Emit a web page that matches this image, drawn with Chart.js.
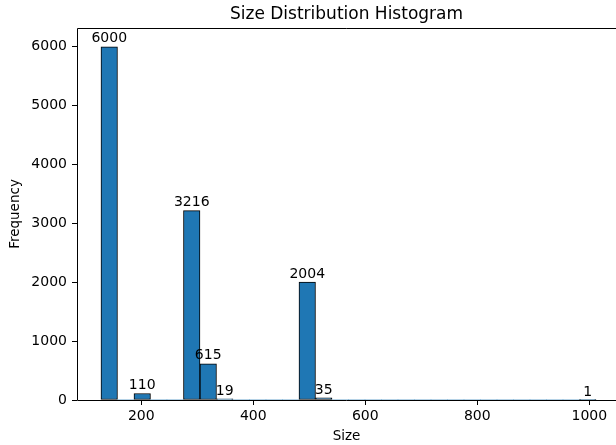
<!DOCTYPE html>
<html>
<head>
<meta charset="utf-8">
<script src="https://cdn.jsdelivr.net/npm/chart.js@4.4.0/dist/chart.umd.min.js"></script>
<style>
    html, body { margin: 0; padding: 0; background: #fff; }
    #wrap { width: 616px; height: 445px; }
</style>
</head>
<body>
<div id="wrap"><canvas id="histChart"></canvas></div>
<script>
// Histogram: 30 equal bins between the smallest and largest size
const binMin = 128;
const binMax = 1012;
const binCount = 30;
const counts = [
    6000, 0, 110, 0, 0, 3216, 615, 19, 0, 0,
    0, 0, 2004, 35, 0, 0, 0, 0, 0, 0,
    0, 0, 0, 0, 0, 0, 0, 0, 0, 1
];
const xTicks = [200, 400, 600, 800, 1000];
const yTicks = [0, 1000, 2000, 3000, 4000, 5000, 6000];

const FONT = '"DejaVu Sans", sans-serif';
const binWidth = (binMax - binMin) / binCount;
const binCenters = counts.map((c, i) => binMin + (i + 0.5) * binWidth);

// bar value labels + axes frame (matplotlib style)
const histExtras = {
    id: 'histExtras',
    afterDatasetsDraw(chart) {
        const ctx = chart.ctx;
        const area = chart.chartArea;
        const meta = chart.getDatasetMeta(0);
        ctx.save();

        ctx.strokeStyle = '#000';
        ctx.lineWidth = 1;
        const l = Math.round(area.left) + 0.5;
        const t = Math.round(area.top) + 0.5;
        const b = Math.round(area.bottom) + 0.5;
        ctx.beginPath();
        ctx.moveTo(area.right, t);
        ctx.lineTo(l, t);
        ctx.lineTo(l, b);
        ctx.lineTo(area.right, b);
        ctx.stroke();

        ctx.font = '14px ' + FONT;
        ctx.fillStyle = '#000';
        ctx.textAlign = 'center';
        ctx.textBaseline = 'bottom';
        meta.data.forEach(function(bar, i) {
            if (counts[i] > 0) {
                ctx.fillText(String(counts[i]), bar.x, bar.y - 1);
            }
        });
        ctx.restore();
    }
};

const tickFont = { family: FONT, size: 14 };
const labelFont = { family: FONT, size: 13.5 };

new Chart(document.getElementById('histChart').getContext('2d'), {
    type: 'bar',
    data: {
        datasets: [{
            data: counts.map((c, i) => ({ x: binCenters[i], y: c })),
            backgroundColor: '#1f77b4',
            borderColor: '#000',
            borderWidth: ctx => counts[ctx.dataIndex] > 0 ? 1 : 0,
            borderSkipped: false,
            barPercentage: 1,
            categoryPercentage: 1
        }]
    },
    options: {
        responsive: true,
        maintainAspectRatio: false,
        devicePixelRatio: 1,
        animation: false,
        layout: { padding: 0 },
        plugins: {
            legend: { display: false },
            tooltip: { enabled: false },
            title: {
                display: true,
                text: 'Size Distribution Histogram',
                color: '#000',
                fullSize: false,
                font: { family: FONT, size: 17, weight: 'normal', lineHeight: 1.2 },
                padding: { top: 4, bottom: 3.6 }
            }
        },
        scales: {
            x: {
                type: 'linear',
                offset: false,
                min: 85.2,
                max: 1047.7,
                afterBuildTicks: axis => { axis.ticks = xTicks.map(v => ({ value: v })); },
                afterFit: axis => { axis.height = 45; },
                ticks: { font: tickFont, color: '#000', padding: 3, maxRotation: 0, autoSkip: false,
                         callback: v => String(v) },
                grid: { offset: false, drawOnChartArea: false, drawTicks: true, tickLength: 5, tickColor: '#000', color: '#000' },
                border: { display: false },
                title: { display: true, text: 'Size', color: '#000', font: labelFont, padding: { top: 0, bottom: 0 } }
            },
            y: {
                min: 0,
                max: 6320,
                afterBuildTicks: axis => { axis.ticks = yTicks.map(v => ({ value: v })); },
                afterFit: axis => { axis.width = 77; },
                ticks: { font: tickFont, color: '#000', padding: 5, callback: v => String(v) },
                grid: { drawOnChartArea: false, drawTicks: true, tickLength: 5, tickColor: '#000', color: '#000' },
                border: { display: false },
                title: { display: true, text: 'Frequency', color: '#000', font: labelFont, padding: { top: 7, bottom: 0 } }
            }
        }
    },
    plugins: [histExtras]
});
</script>
</body>
</html>
